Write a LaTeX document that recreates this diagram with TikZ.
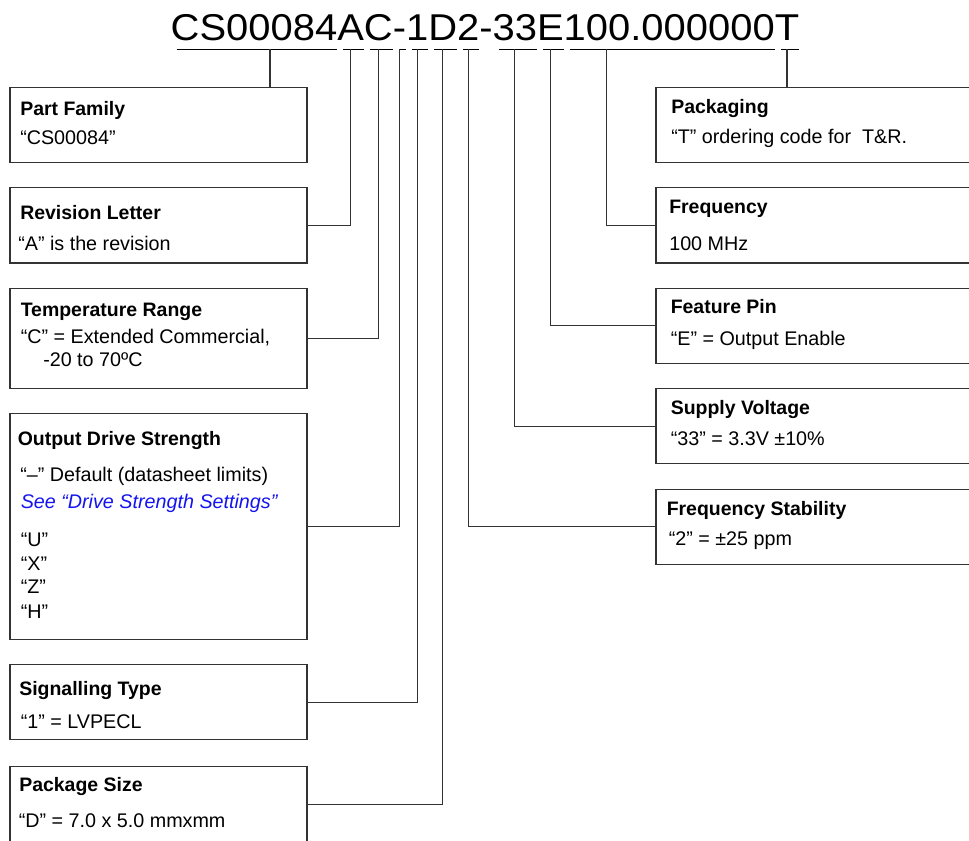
\documentclass[tikz,border=0pt]{standalone}
\usepackage{fontspec}
\setmainfont{Liberation Sans}
\newfontfamily\codefont[FakeStretch=1.07]{Liberation Sans}
\usepackage{tikz}
\definecolor{lnGray}{HTML}{333333}
\definecolor{seeBlue}{HTML}{1414F0}

\begin{document}
\begin{tikzpicture}[x=0.75pt, y=-0.75pt,
    field/.style={inner sep=0pt, outer sep=0pt, anchor=base west,
                  font=\codefont\fontsize{28}{30}\selectfont},
    uline/.style={line width=0.8pt, shorten <=4.5pt},
    fbox/.style={draw=lnGray, line width=1pt, anchor=north west, inner sep=0pt,
                 outer sep=0pt, minimum width=222.75pt, minimum height=56.25pt},
    rbox/.style={fbox, minimum width=255pt},
    ttl/.style={anchor=base west, inner sep=0pt, font=\bfseries\fontsize{14.6}{17}\selectfont},
    txt/.style={anchor=base west, inner sep=0pt, font=\fontsize{14.8}{17}\selectfont},
    link/.style={draw=lnGray, line width=0.9pt}
  ]
  \fill[white] (0,0) rectangle (969,840);
  \clip (0,0) rectangle (969,840);

  % ordering code, one node per field
  \node[field] (pf)   at (170.7,40)       {CS00084};
  \node[field] (rev)  at (pf.base east)   {A};
  \node[field] (tmp)  at (rev.base east)  {C};
  \node[field] (drv)  at (tmp.base east)  {-};
  \node[field] (sig)  at (drv.base east)  {1};
  \node[field] (pkg)  at (sig.base east)  {D};
  \node[field] (stab) at (pkg.base east)  {2};
  \node[field] (sep)  at (stab.base east) {-};
  \node[field] (supp) at (sep.base east)  {33};
  \node[field] (feat) at (supp.base east) {E};
  \node[field] (freq) at (feat.base east) {100.000000};
  \node[field] (pack) at (freq.base east) {T};

  \coordinate (ul) at (0,49.3);
  \foreach \f in {pf,rev,tmp,drv,sig,pkg,stab,supp,feat,freq,pack}
    \draw[uline] (\f.west |- ul) -- (\f.east |- ul);

  % left column
  \node[fbox] (pf-box) at (10,87.3) {};
  \node[ttl] (pf-ttl) at (20,115.7) {Part Family};
  \node[txt] (pf-txt) at (20,144.3) {“CS00084”};

  \node[fbox, minimum height=56.5pt] (rev-box) at (10,187.7) {};
  \node[ttl] (rev-ttl) at (20,219.3) {Revision Letter};
  \node[txt] (rev-txt) at (18,250) {“A” is the revision};

  \node[fbox, minimum height=75pt] (tmp-box) at (10,288.3) {};
  \node[ttl] (tmp-ttl) at (20.5,316.7) {Temperature Range};
  \node[txt] (tmp-txt) at (20.5,343.3) {“C” = Extended Commercial,};
  \node[txt] (tmp-txt2) at (43,366) {-20 to 70ºC};

  \node[fbox, minimum height=169.5pt] (drv-box) at (10,413.3) {};
  \node[ttl] (drv-ttl) at (17.5,445) {Output Drive Strength};
  \node[txt] (drv-txt) at (20,481.7) {“–” Default (datasheet limits)};
  \node[txt, text=seeBlue, font=\itshape\fontsize{14.8}{17}\selectfont] (drv-see) at (20.5,508.3) {See “Drive Strength Settings”};
  \node[txt] (drv-u) at (20.5,546.7) {“U”};
  \node[txt] (drv-x) at (20.5,570)   {“X”};
  \node[txt] (drv-z) at (20.5,593.3) {“Z”};
  \node[txt] (drv-h) at (20.5,618.3) {“H”};

  \node[fbox] (sig-box) at (10,664.7) {};
  \node[ttl] (sig-ttl) at (19,695) {Signalling Type};
  \node[txt] (sig-txt) at (20.5,728.3) {“1” = LVPECL};

  \node[fbox] (pkg-box) at (10,766.7) {};
  \node[ttl] (pkg-ttl) at (19,791.7) {Package Size};
  \node[txt] (pkg-txt) at (18.5,827.3) {“D” = 7.0 x 5.0 mmxmm};

  % right column
  \node[rbox] (pack-box) at (656,87.3) {};
  \node[ttl] (pack-ttl) at (671,113.3) {Packaging};
  \node[txt] (pack-txt) at (671,143.3) {“T” ordering code for \ T\&R.};

  \node[rbox, minimum height=56.5pt] (freq-box) at (656,187.7) {};
  \node[ttl] (freq-ttl) at (669,213.3) {Frequency};
  \node[txt] (freq-txt) at (669,250) {100 MHz};

  \node[rbox] (feat-box) at (656,288.3) {};
  \node[ttl] (feat-ttl) at (670.5,313.3) {Feature Pin};
  \node[txt] (feat-txt) at (670.5,345) {“E” = Output Enable};

  \node[rbox] (supp-box) at (656,388.7) {};
  \node[ttl] (supp-ttl) at (670.5,414.3) {Supply Voltage};
  \node[txt] (supp-txt) at (670.5,445.7) {“33” = 3.3V ±10\%};

  \node[rbox] (stab-box) at (656,489.3) {};
  \node[ttl] (stab-ttl) at (666.5,515.7) {Frequency Stability};
  \node[txt] (stab-txt) at (668.5,545.7) {“2” = ±25 ppm};

  % leaders from the code down to the boxes
  \coordinate (pf-drop) at (270,49.3);
  \coordinate (freq-drop) at (606.5,49.3);
  \draw[link] (pf-drop) -- (pf-drop |- pf-box.north);
  \draw[link] (rev.south |- ul)  |- (rev-box.east);
  \draw[link] (tmp.south |- ul)  |- (tmp-box.east);
  \draw[link] (drv.south |- ul)  |- (drv-box.east);
  \draw[link] (sig.south |- ul)  |- (sig-box.east);
  \draw[link] (pkg.south |- ul)  |- (pkg-box.east);
  \draw[link] (stab.south |- ul) |- (stab-box.west);
  \draw[link] (supp.south |- ul) |- (supp-box.west);
  \draw[link] (feat.south |- ul) |- (feat-box.west);
  \draw[link] (freq-drop) |- (freq-box.west);
  \draw[link] (pack.south |- ul) -- (pack.south |- pack-box.north);
\end{tikzpicture}
\end{document}
